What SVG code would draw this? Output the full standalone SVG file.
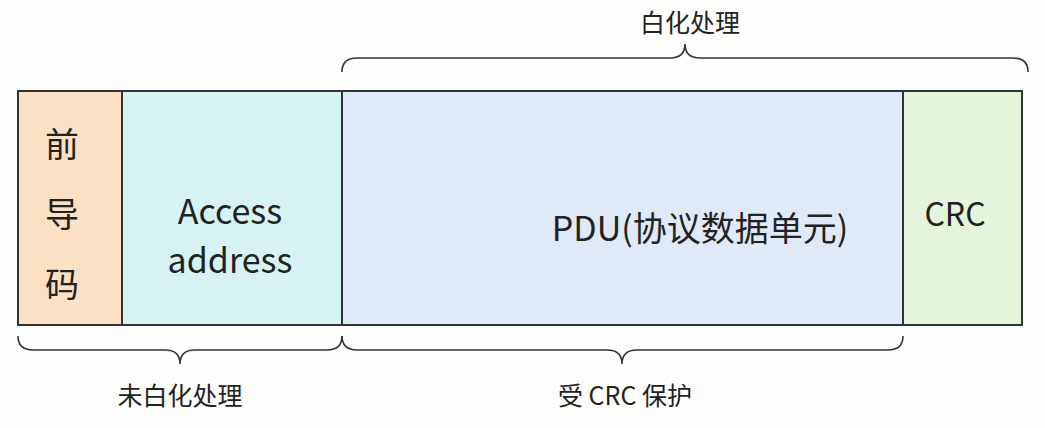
<svg xmlns="http://www.w3.org/2000/svg" width="1045" height="428" viewBox="0 0 1045 428">
<style>
.t{font-family:"Noto Sans CJK SC","Noto Sans",sans-serif;fill:#222}
.seg{stroke:#333;stroke-width:2}
.br{fill:none;stroke:#333;stroke-width:1.6}
</style>
<rect width="1045" height="428" fill="#fdfdfb"/>
<g id="preamble"><rect class="seg" x="18" y="91" width="104" height="234" fill="#fbe0c4"/>
<text class="t" x="62" y="157" font-size="34" text-anchor="middle">前</text>
<text class="t" x="62" y="227" font-size="34" text-anchor="middle">导</text>
<text class="t" x="62" y="297" font-size="34" text-anchor="middle">码</text></g>
<g id="access"><rect class="seg" x="122" y="91" width="220" height="234" fill="#d6f3f3"/>
<text class="t" x="230" y="224" font-size="34" text-anchor="middle">Access</text>
<text class="t" x="230" y="273" font-size="34" text-anchor="middle">address</text></g>
<g id="pdu"><rect class="seg" x="342" y="91" width="561" height="234" fill="#dfeaf6"/>
<text class="t" x="700" y="241" font-size="34" text-anchor="middle">PDU(协议数据单元)</text></g>
<g id="crc"><rect class="seg" x="903" y="91" width="119" height="234" fill="#e5f5dd"/>
<text class="t" x="955" y="226" font-size="32" text-anchor="middle">CRC</text></g>
<g id="connectors">
<path class="br" d="M342,72 Q342,58 357,58 L670,58 Q685,58 685,44 Q685,58 700,58 L1013,58 Q1028,58 1028,72"/>
<path class="br" d="M18,336 Q18,350 33,350 L165,350 Q180,350 180,364 Q180,350 195,350 L327,350 Q342,350 342,336"/>
<path class="br" d="M342,336 Q342,350 357,350 L607,350 Q622,350 622,364 Q622,350 637,350 L888,350 Q903,350 903,336"/>
</g>
<text class="t" x="690" y="32" font-size="25" text-anchor="middle">白化处理</text>
<text class="t" x="180" y="405" font-size="25" text-anchor="middle">未白化处理</text>
<text class="t" x="625" y="405" font-size="25" text-anchor="middle">受 CRC 保护</text>
</svg>
